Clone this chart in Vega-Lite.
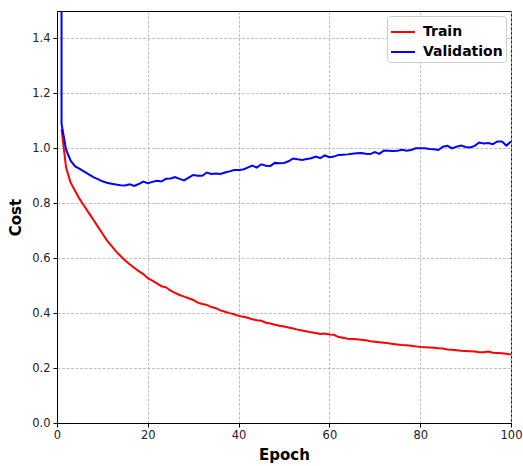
{
  "$schema": "https://vega.github.io/schema/vega-lite/v6.json",
  "autosize": {"type": "none"},
  "padding": {"left": 57, "top": 11, "right": 12, "bottom": 43},
  "width": 454,
  "height": 412,
  "config": {
    "font": "DejaVu Sans",
    "view": {"stroke": "#000000", "strokeWidth": 1},
    "axis": {
      "domainColor": "#000000",
      "tickColor": "#000000",
      "tickSize": 4,
      "labelColor": "#222222",
      "labelFontSize": 11.5,
      "labelFont": "DejaVu Sans",
      "titleFont": "DejaVu Sans",
      "titleFontSize": 15,
      "titleFontWeight": "bold",
      "titleColor": "#000000",
      "gridColor": "#b0b0b0",
      "gridDash": [3, 1.5],
      "gridWidth": 0.8
    }
  },
  "data": {
    "values": [
      {"epoch": 1, "cost": 1.07, "series": "Train"},
      {"epoch": 2, "cost": 0.93, "series": "Train"},
      {"epoch": 3, "cost": 0.875, "series": "Train"},
      {"epoch": 4, "cost": 0.845, "series": "Train"},
      {"epoch": 5, "cost": 0.815, "series": "Train"},
      {"epoch": 6, "cost": 0.79, "series": "Train"},
      {"epoch": 7, "cost": 0.765, "series": "Train"},
      {"epoch": 8, "cost": 0.74, "series": "Train"},
      {"epoch": 9, "cost": 0.715, "series": "Train"},
      {"epoch": 10, "cost": 0.69, "series": "Train"},
      {"epoch": 11, "cost": 0.665, "series": "Train"},
      {"epoch": 12, "cost": 0.645, "series": "Train"},
      {"epoch": 13, "cost": 0.625, "series": "Train"},
      {"epoch": 14, "cost": 0.608, "series": "Train"},
      {"epoch": 15, "cost": 0.592, "series": "Train"},
      {"epoch": 16, "cost": 0.578, "series": "Train"},
      {"epoch": 17, "cost": 0.565, "series": "Train"},
      {"epoch": 18, "cost": 0.553, "series": "Train"},
      {"epoch": 19, "cost": 0.542, "series": "Train"},
      {"epoch": 20, "cost": 0.527, "series": "Train"},
      {"epoch": 21, "cost": 0.518, "series": "Train"},
      {"epoch": 22, "cost": 0.508, "series": "Train"},
      {"epoch": 23, "cost": 0.498, "series": "Train"},
      {"epoch": 24, "cost": 0.494, "series": "Train"},
      {"epoch": 25, "cost": 0.482, "series": "Train"},
      {"epoch": 26, "cost": 0.474, "series": "Train"},
      {"epoch": 27, "cost": 0.466, "series": "Train"},
      {"epoch": 28, "cost": 0.46, "series": "Train"},
      {"epoch": 29, "cost": 0.454, "series": "Train"},
      {"epoch": 30, "cost": 0.448, "series": "Train"},
      {"epoch": 31, "cost": 0.438, "series": "Train"},
      {"epoch": 32, "cost": 0.433, "series": "Train"},
      {"epoch": 33, "cost": 0.43, "series": "Train"},
      {"epoch": 34, "cost": 0.422, "series": "Train"},
      {"epoch": 35, "cost": 0.418, "series": "Train"},
      {"epoch": 36, "cost": 0.41, "series": "Train"},
      {"epoch": 37, "cost": 0.405, "series": "Train"},
      {"epoch": 38, "cost": 0.4, "series": "Train"},
      {"epoch": 39, "cost": 0.396, "series": "Train"},
      {"epoch": 40, "cost": 0.39, "series": "Train"},
      {"epoch": 41, "cost": 0.387, "series": "Train"},
      {"epoch": 42, "cost": 0.383, "series": "Train"},
      {"epoch": 43, "cost": 0.378, "series": "Train"},
      {"epoch": 44, "cost": 0.374, "series": "Train"},
      {"epoch": 45, "cost": 0.372, "series": "Train"},
      {"epoch": 46, "cost": 0.365, "series": "Train"},
      {"epoch": 47, "cost": 0.362, "series": "Train"},
      {"epoch": 48, "cost": 0.358, "series": "Train"},
      {"epoch": 49, "cost": 0.354, "series": "Train"},
      {"epoch": 50, "cost": 0.351, "series": "Train"},
      {"epoch": 51, "cost": 0.348, "series": "Train"},
      {"epoch": 52, "cost": 0.344, "series": "Train"},
      {"epoch": 53, "cost": 0.34, "series": "Train"},
      {"epoch": 54, "cost": 0.337, "series": "Train"},
      {"epoch": 55, "cost": 0.333, "series": "Train"},
      {"epoch": 56, "cost": 0.33, "series": "Train"},
      {"epoch": 57, "cost": 0.328, "series": "Train"},
      {"epoch": 58, "cost": 0.324, "series": "Train"},
      {"epoch": 59, "cost": 0.326, "series": "Train"},
      {"epoch": 60, "cost": 0.322, "series": "Train"},
      {"epoch": 61, "cost": 0.321, "series": "Train"},
      {"epoch": 62, "cost": 0.313, "series": "Train"},
      {"epoch": 63, "cost": 0.31, "series": "Train"},
      {"epoch": 64, "cost": 0.307, "series": "Train"},
      {"epoch": 65, "cost": 0.306, "series": "Train"},
      {"epoch": 66, "cost": 0.305, "series": "Train"},
      {"epoch": 67, "cost": 0.303, "series": "Train"},
      {"epoch": 68, "cost": 0.301, "series": "Train"},
      {"epoch": 69, "cost": 0.298, "series": "Train"},
      {"epoch": 70, "cost": 0.296, "series": "Train"},
      {"epoch": 71, "cost": 0.294, "series": "Train"},
      {"epoch": 72, "cost": 0.292, "series": "Train"},
      {"epoch": 73, "cost": 0.29, "series": "Train"},
      {"epoch": 74, "cost": 0.288, "series": "Train"},
      {"epoch": 75, "cost": 0.286, "series": "Train"},
      {"epoch": 76, "cost": 0.284, "series": "Train"},
      {"epoch": 77, "cost": 0.283, "series": "Train"},
      {"epoch": 78, "cost": 0.281, "series": "Train"},
      {"epoch": 79, "cost": 0.279, "series": "Train"},
      {"epoch": 80, "cost": 0.277, "series": "Train"},
      {"epoch": 81, "cost": 0.276, "series": "Train"},
      {"epoch": 82, "cost": 0.275, "series": "Train"},
      {"epoch": 83, "cost": 0.274, "series": "Train"},
      {"epoch": 84, "cost": 0.272, "series": "Train"},
      {"epoch": 85, "cost": 0.271, "series": "Train"},
      {"epoch": 86, "cost": 0.268, "series": "Train"},
      {"epoch": 87, "cost": 0.267, "series": "Train"},
      {"epoch": 88, "cost": 0.265, "series": "Train"},
      {"epoch": 89, "cost": 0.263, "series": "Train"},
      {"epoch": 90, "cost": 0.262, "series": "Train"},
      {"epoch": 91, "cost": 0.261, "series": "Train"},
      {"epoch": 92, "cost": 0.26, "series": "Train"},
      {"epoch": 93, "cost": 0.258, "series": "Train"},
      {"epoch": 94, "cost": 0.258, "series": "Train"},
      {"epoch": 95, "cost": 0.26, "series": "Train"},
      {"epoch": 96, "cost": 0.256, "series": "Train"},
      {"epoch": 97, "cost": 0.255, "series": "Train"},
      {"epoch": 98, "cost": 0.254, "series": "Train"},
      {"epoch": 99, "cost": 0.252, "series": "Train"},
      {"epoch": 100, "cost": 0.249, "series": "Train"},
      {"epoch": 0.98, "cost": 50, "series": "Validation"},
      {"epoch": 1, "cost": 1.09, "series": "Validation"},
      {"epoch": 2, "cost": 0.995, "series": "Validation"},
      {"epoch": 3, "cost": 0.955, "series": "Validation"},
      {"epoch": 4, "cost": 0.934, "series": "Validation"},
      {"epoch": 5, "cost": 0.925, "series": "Validation"},
      {"epoch": 6, "cost": 0.915, "series": "Validation"},
      {"epoch": 7, "cost": 0.905, "series": "Validation"},
      {"epoch": 8, "cost": 0.895, "series": "Validation"},
      {"epoch": 9, "cost": 0.888, "series": "Validation"},
      {"epoch": 10, "cost": 0.88, "series": "Validation"},
      {"epoch": 11, "cost": 0.875, "series": "Validation"},
      {"epoch": 12, "cost": 0.871, "series": "Validation"},
      {"epoch": 13, "cost": 0.868, "series": "Validation"},
      {"epoch": 14, "cost": 0.866, "series": "Validation"},
      {"epoch": 15, "cost": 0.865, "series": "Validation"},
      {"epoch": 16, "cost": 0.869, "series": "Validation"},
      {"epoch": 17, "cost": 0.863, "series": "Validation"},
      {"epoch": 18, "cost": 0.87, "series": "Validation"},
      {"epoch": 19, "cost": 0.879, "series": "Validation"},
      {"epoch": 20, "cost": 0.873, "series": "Validation"},
      {"epoch": 21, "cost": 0.878, "series": "Validation"},
      {"epoch": 22, "cost": 0.882, "series": "Validation"},
      {"epoch": 23, "cost": 0.879, "series": "Validation"},
      {"epoch": 24, "cost": 0.889, "series": "Validation"},
      {"epoch": 25, "cost": 0.89, "series": "Validation"},
      {"epoch": 26, "cost": 0.895, "series": "Validation"},
      {"epoch": 27, "cost": 0.889, "series": "Validation"},
      {"epoch": 28, "cost": 0.883, "series": "Validation"},
      {"epoch": 29, "cost": 0.893, "series": "Validation"},
      {"epoch": 30, "cost": 0.903, "series": "Validation"},
      {"epoch": 31, "cost": 0.9, "series": "Validation"},
      {"epoch": 32, "cost": 0.9, "series": "Validation"},
      {"epoch": 33, "cost": 0.912, "series": "Validation"},
      {"epoch": 34, "cost": 0.907, "series": "Validation"},
      {"epoch": 35, "cost": 0.908, "series": "Validation"},
      {"epoch": 36, "cost": 0.907, "series": "Validation"},
      {"epoch": 37, "cost": 0.912, "series": "Validation"},
      {"epoch": 38, "cost": 0.916, "series": "Validation"},
      {"epoch": 39, "cost": 0.921, "series": "Validation"},
      {"epoch": 40, "cost": 0.921, "series": "Validation"},
      {"epoch": 41, "cost": 0.923, "series": "Validation"},
      {"epoch": 42, "cost": 0.93, "series": "Validation"},
      {"epoch": 43, "cost": 0.937, "series": "Validation"},
      {"epoch": 44, "cost": 0.93, "series": "Validation"},
      {"epoch": 45, "cost": 0.942, "series": "Validation"},
      {"epoch": 46, "cost": 0.937, "series": "Validation"},
      {"epoch": 47, "cost": 0.936, "series": "Validation"},
      {"epoch": 48, "cost": 0.947, "series": "Validation"},
      {"epoch": 49, "cost": 0.946, "series": "Validation"},
      {"epoch": 50, "cost": 0.947, "series": "Validation"},
      {"epoch": 51, "cost": 0.953, "series": "Validation"},
      {"epoch": 52, "cost": 0.963, "series": "Validation"},
      {"epoch": 53, "cost": 0.96, "series": "Validation"},
      {"epoch": 54, "cost": 0.958, "series": "Validation"},
      {"epoch": 55, "cost": 0.961, "series": "Validation"},
      {"epoch": 56, "cost": 0.964, "series": "Validation"},
      {"epoch": 57, "cost": 0.97, "series": "Validation"},
      {"epoch": 58, "cost": 0.964, "series": "Validation"},
      {"epoch": 59, "cost": 0.974, "series": "Validation"},
      {"epoch": 60, "cost": 0.968, "series": "Validation"},
      {"epoch": 61, "cost": 0.97, "series": "Validation"},
      {"epoch": 62, "cost": 0.976, "series": "Validation"},
      {"epoch": 63, "cost": 0.977, "series": "Validation"},
      {"epoch": 64, "cost": 0.978, "series": "Validation"},
      {"epoch": 65, "cost": 0.98, "series": "Validation"},
      {"epoch": 66, "cost": 0.982, "series": "Validation"},
      {"epoch": 67, "cost": 0.983, "series": "Validation"},
      {"epoch": 68, "cost": 0.98, "series": "Validation"},
      {"epoch": 69, "cost": 0.979, "series": "Validation"},
      {"epoch": 70, "cost": 0.986, "series": "Validation"},
      {"epoch": 71, "cost": 0.98, "series": "Validation"},
      {"epoch": 72, "cost": 0.992, "series": "Validation"},
      {"epoch": 73, "cost": 0.991, "series": "Validation"},
      {"epoch": 74, "cost": 0.99, "series": "Validation"},
      {"epoch": 75, "cost": 0.991, "series": "Validation"},
      {"epoch": 76, "cost": 0.995, "series": "Validation"},
      {"epoch": 77, "cost": 0.991, "series": "Validation"},
      {"epoch": 78, "cost": 0.994, "series": "Validation"},
      {"epoch": 79, "cost": 1.0, "series": "Validation"},
      {"epoch": 80, "cost": 1.0, "series": "Validation"},
      {"epoch": 81, "cost": 1.0, "series": "Validation"},
      {"epoch": 82, "cost": 0.998, "series": "Validation"},
      {"epoch": 83, "cost": 0.997, "series": "Validation"},
      {"epoch": 84, "cost": 0.994, "series": "Validation"},
      {"epoch": 85, "cost": 1.006, "series": "Validation"},
      {"epoch": 86, "cost": 1.009, "series": "Validation"},
      {"epoch": 87, "cost": 1.0, "series": "Validation"},
      {"epoch": 88, "cost": 1.006, "series": "Validation"},
      {"epoch": 89, "cost": 1.01, "series": "Validation"},
      {"epoch": 90, "cost": 1.005, "series": "Validation"},
      {"epoch": 91, "cost": 1.003, "series": "Validation"},
      {"epoch": 92, "cost": 1.009, "series": "Validation"},
      {"epoch": 93, "cost": 1.021, "series": "Validation"},
      {"epoch": 94, "cost": 1.018, "series": "Validation"},
      {"epoch": 95, "cost": 1.019, "series": "Validation"},
      {"epoch": 96, "cost": 1.015, "series": "Validation"},
      {"epoch": 97, "cost": 1.025, "series": "Validation"},
      {"epoch": 98, "cost": 1.025, "series": "Validation"},
      {"epoch": 99, "cost": 1.01, "series": "Validation"},
      {"epoch": 100, "cost": 1.025, "series": "Validation"}
    ]
  },
  "mark": {"type": "line", "strokeWidth": 2, "clip": true, "interpolate": "linear"},
  "encoding": {
    "x": {
      "field": "epoch",
      "type": "quantitative",
      "title": "Epoch",
      "scale": {"domain": [0, 100], "nice": false, "zero": false},
      "axis": {"values": [0, 20, 40, 60, 80, 100], "grid": true, "titlePadding": 7, "labelPadding": 2, "labelFlush": false}
    },
    "y": {
      "field": "cost",
      "type": "quantitative",
      "title": "Cost",
      "scale": {"domain": [0, 1.5], "nice": false},
      "axis": {"values": [0, 0.2, 0.4, 0.6, 0.8, 1.0, 1.2, 1.4], "format": ".1f", "grid": true, "titlePadding": 8, "labelPadding": 3}
    },
    "color": {
      "field": "series",
      "type": "nominal",
      "scale": {"domain": ["Train", "Validation"], "range": ["#ff0000", "#0000ff"]},
      "legend": {
        "title": null,
        "orient": "top-right",
        "offset": 5,
        "symbolType": "stroke",
        "symbolSize": 576,
        "symbolStrokeWidth": 2,
        "labelFontSize": 14,
        "labelFontWeight": "bold",
        "labelColor": "#000000",
        "labelFont": "DejaVu Sans",
        "labelOffset": 7,
        "rowPadding": 0,
        "padding": 3,
        "fillColor": "#ffffff",
        "strokeColor": "#cccccc",
        "cornerRadius": 3
      }
    },
    "order": {"field": "epoch", "type": "quantitative"}
  }
}
